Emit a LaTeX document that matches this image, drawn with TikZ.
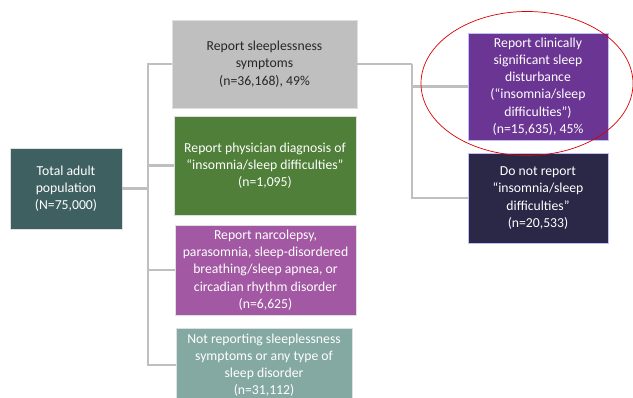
\documentclass[tikz,border=0pt]{standalone}
\usepackage{fontspec}
\setmainfont{Carlito}
\usepackage{xcolor}
\usetikzlibrary{positioning}
\definecolor{totalfill}{HTML}{3F6060}
\definecolor{sleepfill}{HTML}{BFBFBF}
\definecolor{physfill}{HTML}{4F7F38}
\definecolor{narcofill}{HTML}{A258A2}
\definecolor{notfill}{HTML}{84A9A3}
\definecolor{clinfill}{HTML}{6B3594}
\definecolor{donotfill}{HTML}{2B2747}
\definecolor{linkgray}{HTML}{BFBFBF}
\begin{document}
\begin{tikzpicture}[x=1pt,y=-1pt,
    box/.style={draw=white!75!gray,line width=0.8pt,align=center,inner sep=2pt,
        font=\fontsize{13.7}{17.2}\selectfont,text=white},
    link/.style={draw=linkgray,line width=2.4pt}]
    \useasboundingbox (0,0) rectangle (633,398);
    % left side
    \node[box,fill=totalfill,minimum width=112pt,minimum height=81pt] (total) at (66,188.5)
        {Total adult\\population\\(N=75,000)};
    \node[box,fill=sleepfill,text=black!85,minimum width=185pt,minimum height=88pt] (sleep) at (264.5,64)
        {Report sleeplessness\\symptoms\\(n=36,168), 49\%};
    \node[box,fill=physfill,minimum width=182pt,minimum height=99pt] (phys) at (265,165.5)
        {Report physician diagnosis of\\``insomnia/sleep difficulties''\\(n=1,095)};
    \node[box,fill=narcofill,minimum width=181pt,minimum height=90pt] (narco) at (265.5,270)
        {Report narcolepsy,\\parasomnia, sleep-disordered\\breathing/sleep apnea, or\\circadian rhythm disorder\\(n=6,625)};
    \node[box,fill=notfill,minimum width=176pt,minimum height=74pt] (notrep) at (264,365)
        {Not reporting sleeplessness\\symptoms or any type of\\sleep disorder\\(n=31,112)};
    % right side
    \node[box,draw=blue!25!white,fill=clinfill,minimum width=140pt,minimum height=107pt] (clin) at (538,86.5)
        {Report clinically\\significant sleep\\disturbance\\(``insomnia/sleep\\difficulties'')\\(n=15,635), 45\%};
    \node[box,draw=blue!25!white,fill=donotfill,minimum width=140pt,minimum height=90pt] (donot) at (538,198)
        {Do not report\\``insomnia/sleep\\difficulties''\\(n=20,533)};
    % connectors
    \coordinate (busl) at (148,188.5);
    \coordinate (busr) at (412,64);
    \draw[link] (total.east) -- (busl);
    \draw[link] (busl) |- (sleep.west);
    \draw[link] (busl) |- (phys.west);
    \draw[link] (busl) |- (narco.west);
    \draw[link] (busl) |- (notrep.west);
    \draw[link] (sleep.east) -- (busr);
    \draw[link] (busr) |- (clin.west);
    \draw[link] (busr) |- (donot.west);
    % highlight
    \draw[red!85!black,line width=0.7pt] (527,83.5) ellipse (106 and 72);
\end{tikzpicture}
\end{document}
